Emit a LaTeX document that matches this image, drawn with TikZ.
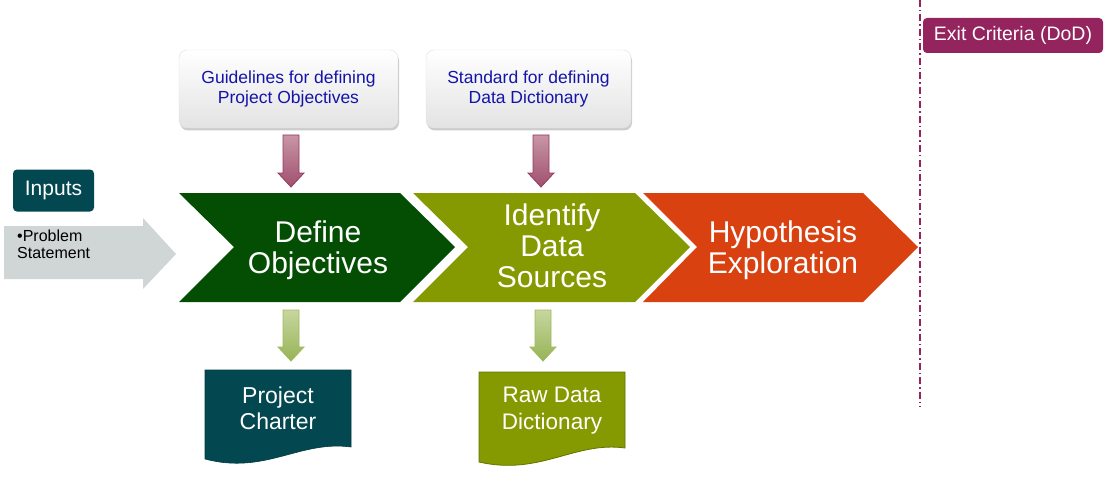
\documentclass[tikz,border=0pt]{standalone}
\usepackage{fontspec}
\setmainfont{Liberation Sans}
\usetikzlibrary{shadows}
\definecolor{stepgreen}{RGB}{4,78,4}
\definecolor{stepolive}{RGB}{133,154,0}
\definecolor{steporange}{RGB}{217,65,17}
\definecolor{teal}{RGB}{3,72,80}
\definecolor{exitpurple}{RGB}{147,36,94}
\definecolor{guideblue}{RGB}{20,20,170}
\definecolor{inputgray}{RGB}{208,213,213}
\definecolor{pinktop}{RGB}{200,150,165}
\definecolor{pinkbot}{RGB}{160,80,110}
\definecolor{pinkline}{RGB}{150,55,95}
\definecolor{greentop}{RGB}{200,214,160}
\definecolor{greenbot}{RGB}{150,180,85}
\definecolor{greenline}{RGB}{155,187,89}
\tikzset{
  steptext/.style={text=white, align=center, font=\fontsize{30}{31}\selectfont},
  guidebox/.style={draw=black!12, line width=0.4pt, rounded corners=8pt, top color=white, bottom color=black!11,
    drop shadow={opacity=0.4, shadow xshift=1pt, shadow yshift=-2.5pt},
    text=guideblue, align=center, font=\fontsize{17.5}{20}\selectfont},
  pinkarrow/.style={draw=pinkline, line width=0.8pt, top color=pinktop, bottom color=pinkbot},
  greenarrow/.style={draw=greenline, line width=0.8pt, top color=greentop, bottom color=greenbot},
  doctext/.style={text=white, align=center, font=\fontsize{23}{26}\selectfont},
}
\begin{document}
\begin{tikzpicture}[x=1pt, y=-1pt]
\useasboundingbox (0,0) rectangle (1111,492);

% process chevrons
\fill[stepgreen] (179,193) -- (400,193) -- (455,247) -- (400,302) -- (179,302) -- (234,247) -- cycle;
\fill[stepolive] (413,193) -- (635,193) -- (690,247) -- (635,302) -- (413,302) -- (468,247) -- cycle;
\fill[steporange] (643,193) -- (863,193) -- (918,247) -- (863,302) -- (643,302) -- (697,247) -- cycle;
\node[steptext] (define) at (318,250) {Define\\Objectives};
\node[steptext] (identify) at (552,246) {Identify\\Data\\Sources};
\node[steptext] (hypo) at (783,250) {Hypothesis\\Exploration};

% inputs
\node[fill=teal, rounded corners=4pt, minimum width=81pt, minimum height=42pt, text=white,
  font=\fontsize{21}{25}\selectfont] (inputs) at (53.5,190.5) {Inputs};
\fill[inputgray] (4,226) -- (143,226) -- (143,218) -- (176,254) -- (143,289) -- (143,279) -- (4,279) -- cycle;
\node[anchor=north west, align=left, inner sep=0pt, font=\fontsize{16}{17}\selectfont] (problem)
  at (17,230) {•Problem\\Statement};

% guidance boxes
\node[guidebox, minimum width=219pt, minimum height=78pt] (guide) at (288.5,89) {Guidelines for defining\\Project Objectives};
\node[guidebox, minimum width=205pt, minimum height=78pt] (standard) at (528.5,89) {Standard for defining\\Data Dictionary};

% arrows into the chevrons
\path[pinkarrow] (283,135) -- (299,135) -- (299,173) -- (304,173) -- (291,187) -- (278,173) -- (283,173) -- cycle;
\path[pinkarrow] (533,135) -- (549,135) -- (549,173) -- (554,173) -- (541,187) -- (528,173) -- (533,173) -- cycle;

% arrows out to the deliverables
\path[greenarrow] (283,310) -- (299,310) -- (299,347) -- (304,347) -- (291,361) -- (278,347) -- (283,347) -- cycle;
\path[greenarrow] (535,310) -- (551,310) -- (551,347) -- (556,347) -- (543,361) -- (530,347) -- (535,347) -- cycle;

% deliverables
\path[fill=teal, draw=teal!80!black, line width=0.6pt] (205,370) -- (351,370) -- (351,447)
  .. controls (300,440) and (265,475) .. (205,459) -- cycle;
\node[doctext] (charter) at (278,408) {Project\\Charter};
\path[fill=stepolive, draw=stepolive!75!black, line width=0.8pt] (479,372) -- (625,372) -- (625,448)
  .. controls (575,441) and (540,476) .. (479,462) -- cycle;
\node[doctext, font=\fontsize{22.5}{27}\selectfont] (rawdict) at (552,411) {Raw Data\\Dictionary};

% exit criteria
\coordinate (exittop) at (920,0);
\coordinate (exitbot) at (920,407);
\draw[exitpurple, line width=1.5pt, dash pattern=on 7pt off 3pt on 1.5pt off 3pt] (exittop) -- (exitbot);
\node[fill=exitpurple, rounded corners=4pt, minimum width=180pt, minimum height=35pt, text=white,
  font=\fontsize{19.5}{22}\selectfont] (exit) at (1013,35.5) {Exit Criteria (DoD)};
\end{tikzpicture}
\end{document}
